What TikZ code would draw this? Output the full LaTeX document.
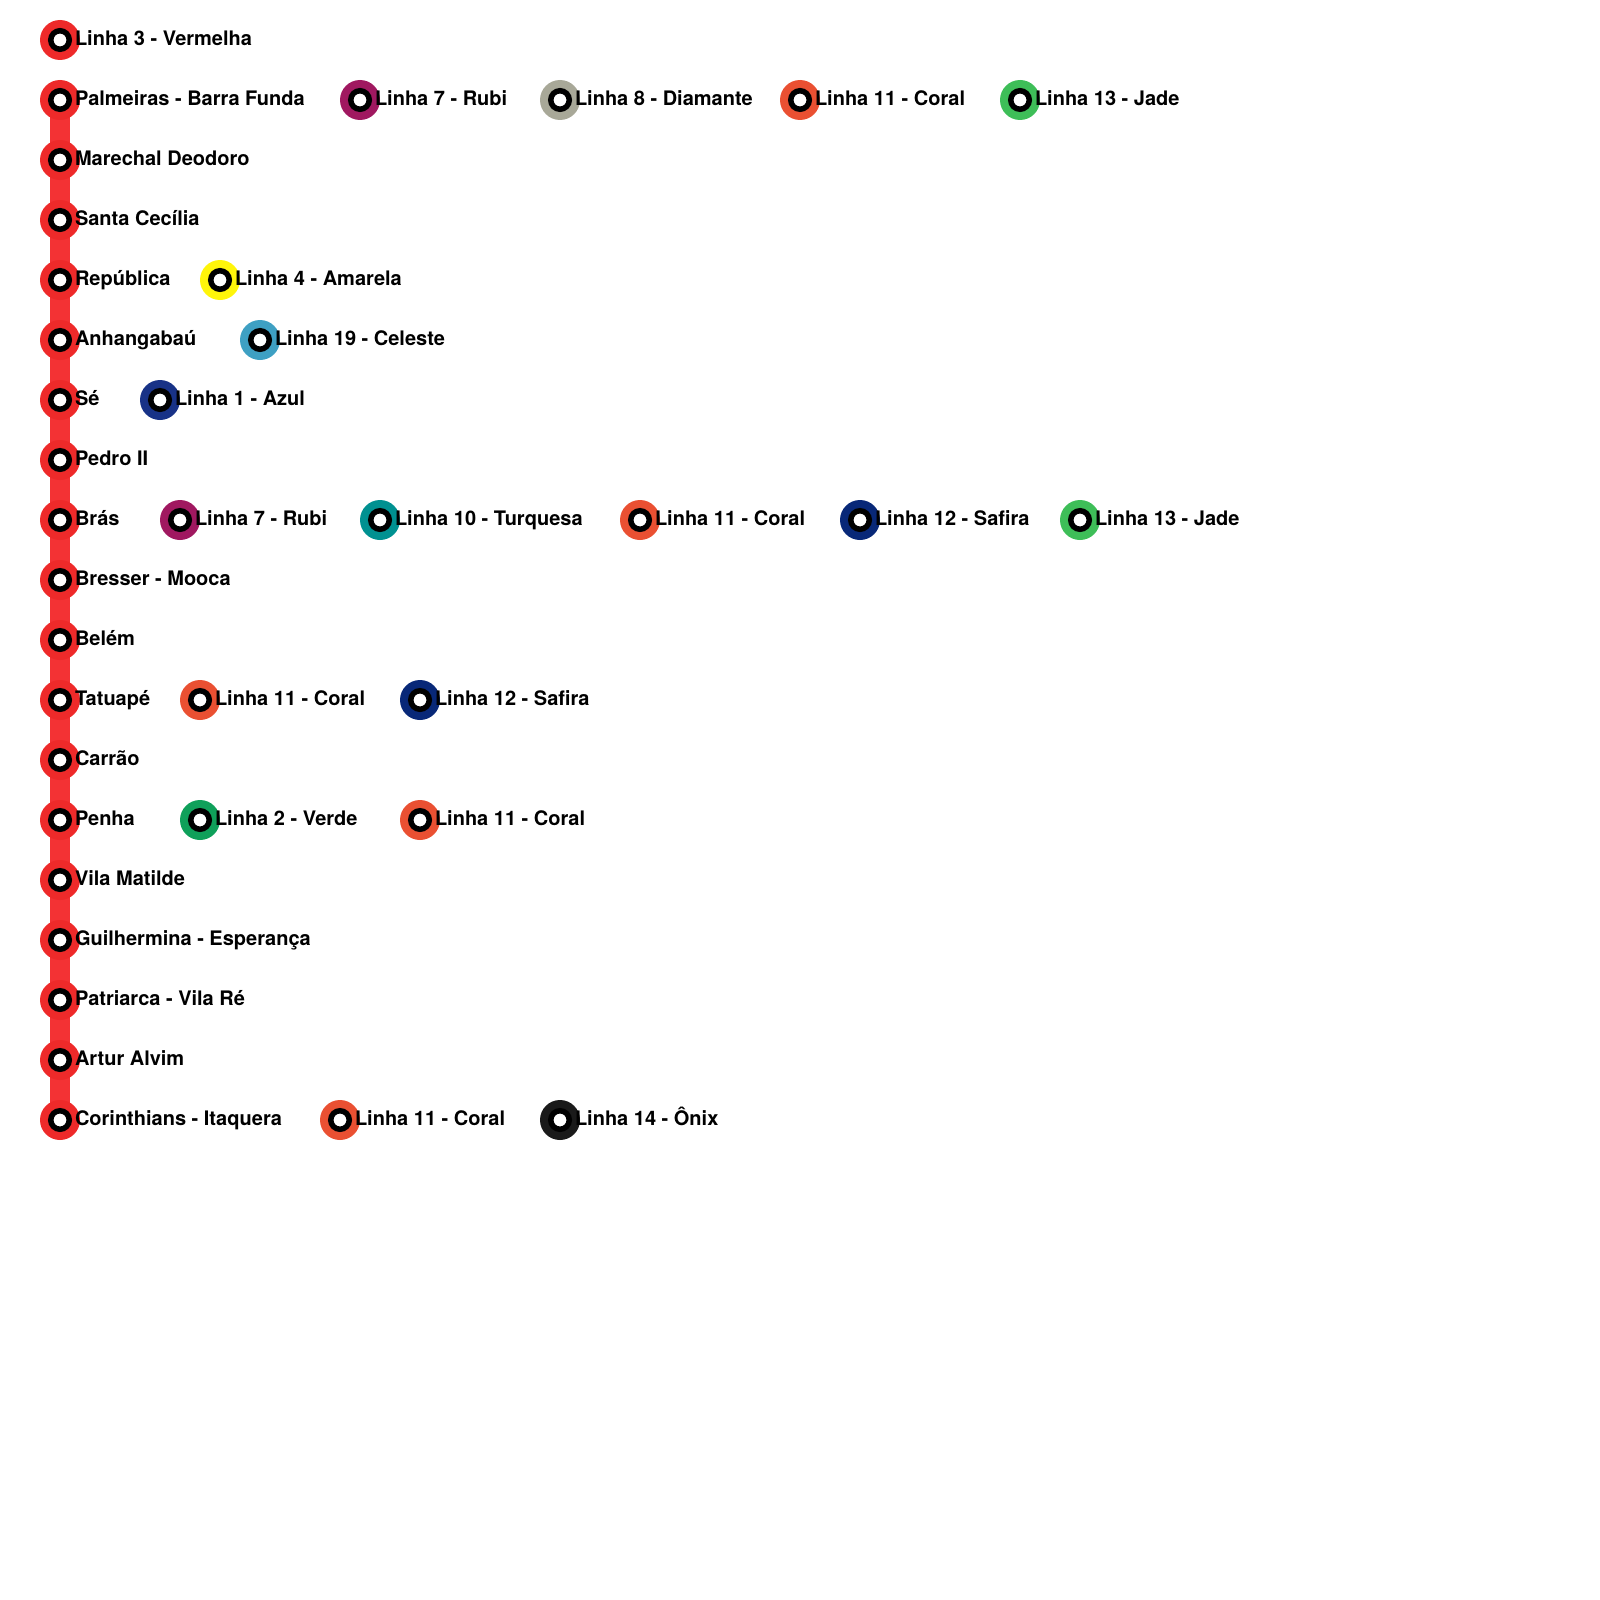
\documentclass[tikz,border=0pt]{standalone}
\usepackage{fontspec}
\setmainfont{TeX Gyre Heros}
\usetikzlibrary{positioning,backgrounds}
\definecolor{linhavermelha}{RGB}{238,42,42}
\definecolor{linhatrilho}{RGB}{243,50,52}
\definecolor{linharubi}{RGB}{160,24,96}
\definecolor{linhadiamante}{RGB}{168,168,152}
\definecolor{linhacoral}{RGB}{234,80,50}
\definecolor{linhajade}{RGB}{62,190,88}
\definecolor{linhaamarela}{RGB}{255,245,10}
\definecolor{linhaceleste}{RGB}{62,160,195}
\definecolor{linhaazul}{RGB}{24,50,135}
\definecolor{linhaturquesa}{RGB}{0,145,145}
\definecolor{linhasafira}{RGB}{8,40,120}
\definecolor{linhaverde}{RGB}{15,160,90}
\definecolor{linhaonix}{RGB}{26,26,26}
\tikzset{
  stationouter/.style={circle, inner sep=0pt, minimum size=40pt},
  stationcore/.style={circle, draw=black, line width=5.5pt, fill=white, inner sep=0pt, minimum size=18.5pt},
  stationtext/.style={inner sep=0pt, text height=15.5pt, text depth=5pt, font=\fontsize{20}{24}\selectfont\bfseries},
  trilho/.style={draw=linhatrilho, line width=20pt}
}
% x y name colour text
\newcommand{\station}[5]{
  \node[stationouter, fill=#4] (#3) at (#1,#2) {};
  \node[stationcore] (#3core) at (#3) {};
  \node[stationtext, right=-5.4pt of #3] (#3text) {#5};
}
\begin{document}
\begin{tikzpicture}[x=1pt, y=-1pt]
  \useasboundingbox (0,0) rectangle (1600,1600);
  % linha 3
  \station{60}{40}{vermelha}{linhavermelha}{Linha 3 - Vermelha}
  % palmeiras
  \station{60}{100}{palmeiras}{linhavermelha}{Palmeiras - Barra Funda}
  \station{360}{100}{palmeirasrubi}{linharubi}{Linha 7 - Rubi}
  \station{560}{100}{palmeirasdiamante}{linhadiamante}{Linha 8 - Diamante}
  \station{800}{100}{palmeirascoral}{linhacoral}{Linha 11 - Coral}
  \station{1020}{100}{palmeirasjade}{linhajade}{Linha 13 - Jade}
  \station{60}{160}{marechal}{linhavermelha}{Marechal Deodoro}
  \station{60}{220}{cecilia}{linhavermelha}{Santa Cecília}
  % republica
  \station{60}{280}{republica}{linhavermelha}{República}
  \station{220}{280}{republicaamarela}{linhaamarela}{Linha 4 - Amarela}
  % anhangabau
  \station{60}{340}{anhangabau}{linhavermelha}{Anhangabaú}
  \station{260}{340}{anhangabauceleste}{linhaceleste}{Linha 19 - Celeste}
  % se
  \station{60}{400}{se}{linhavermelha}{Sé}
  \station{160}{400}{seazul}{linhaazul}{Linha 1 - Azul}
  \station{60}{460}{pedro}{linhavermelha}{Pedro II}
  % bras
  \station{60}{520}{bras}{linhavermelha}{Brás}
  \station{180}{520}{brasrubi}{linharubi}{Linha 7 - Rubi}
  \station{380}{520}{brasturquesa}{linhaturquesa}{Linha 10 - Turquesa}
  \station{640}{520}{brascoral}{linhacoral}{Linha 11 - Coral}
  \station{860}{520}{brassafira}{linhasafira}{Linha 12 - Safira}
  \station{1080}{520}{brasjade}{linhajade}{Linha 13 - Jade}
  \station{60}{580}{bresser}{linhavermelha}{Bresser - Mooca}
  \station{60}{640}{belem}{linhavermelha}{Belém}
  % tatuape
  \station{60}{700}{tatuape}{linhavermelha}{Tatuapé}
  \station{200}{700}{tatuapecoral}{linhacoral}{Linha 11 - Coral}
  \station{420}{700}{tatuapesafira}{linhasafira}{Linha 12 - Safira}
  \station{60}{760}{carrao}{linhavermelha}{Carrão}
  % penha
  \station{60}{820}{penha}{linhavermelha}{Penha}
  \station{200}{820}{penhaverde}{linhaverde}{Linha 2 - Verde}
  \station{420}{820}{penhacoral}{linhacoral}{Linha 11 - Coral}
  \station{60}{880}{matilde}{linhavermelha}{Vila Matilde}
  \station{60}{940}{guilhermina}{linhavermelha}{Guilhermina - Esperança}
  \station{60}{1000}{patriarca}{linhavermelha}{Patriarca - Vila Ré}
  \station{60}{1060}{artur}{linhavermelha}{Artur Alvim}
  % itaquera
  \station{60}{1120}{itaquera}{linhavermelha}{Corinthians - Itaquera}
  \station{340}{1120}{itaqueracoral}{linhacoral}{Linha 11 - Coral}
  \station{560}{1120}{itaqueraonix}{linhaonix}{Linha 14 - Ônix}
  \begin{scope}[on background layer]
    \draw[trilho] (palmeiras.center) -- (marechal.center) -- (cecilia.center) -- (republica.center)
      -- (anhangabau.center) -- (se.center) -- (pedro.center) -- (bras.center) -- (bresser.center)
      -- (belem.center) -- (tatuape.center) -- (carrao.center) -- (penha.center) -- (matilde.center)
      -- (guilhermina.center) -- (patriarca.center) -- (artur.center) -- (itaquera.center);
  \end{scope}
\end{tikzpicture}
\end{document}
